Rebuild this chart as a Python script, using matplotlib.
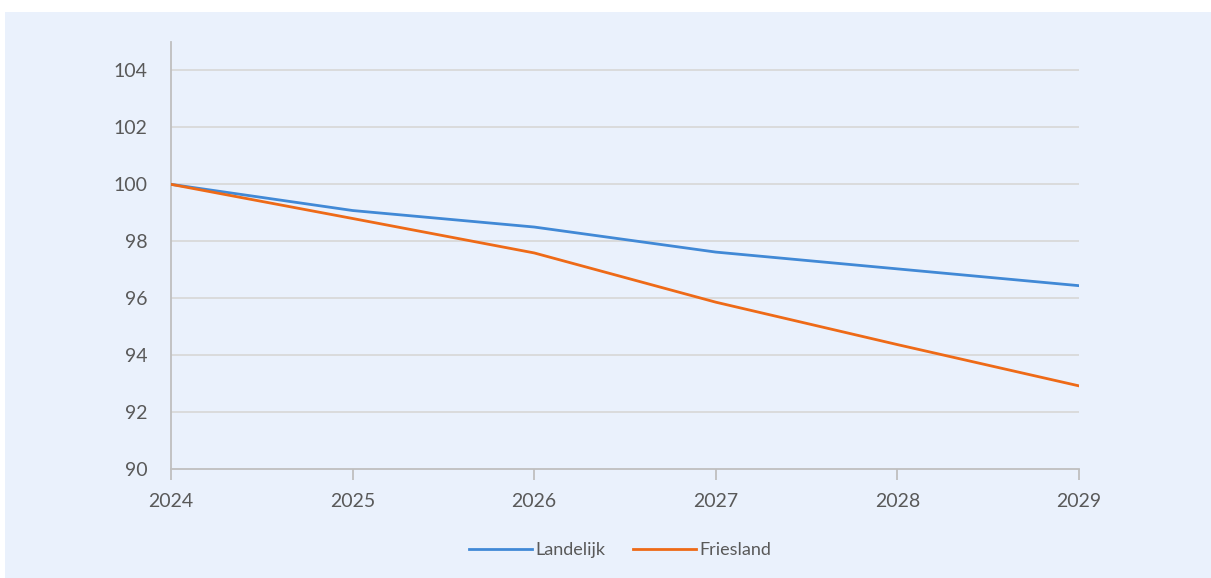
import matplotlib
matplotlib.use("Agg")
import matplotlib.pyplot as plt
from matplotlib.patches import Rectangle

years = [2024, 2025, 2026, 2027, 2028, 2029]
landelijk = [100.0, 99.08, 98.50, 97.62, 97.03, 96.44]
friesland = [100.0, 98.80, 97.59, 95.86, 94.37, 92.92]
yticks = [90, 92, 94, 96, 98, 100, 102, 104]

plt.rcParams['font.family'] = ['Lato', 'DejaVu Sans']
txt = '#595959'
bg = '#EAF1FC'

fig = plt.figure(figsize=(12.11, 5.78), dpi=100)
fig.patch.set_facecolor('white')
bgax = fig.add_axes([5/1211, 0, 1 - 5/1211, 566/578], zorder=-5)
bgax.set_facecolor(bg)
bgax.axis('off')
bgax.add_patch(Rectangle((0, 0), 1, 1, transform=bgax.transAxes, facecolor=bg, edgecolor='none'))

ax = fig.add_axes([171/1211, (578-469)/578, (1079-171)/1211, (469-42)/578], zorder=1)
ax.set_facecolor('none')
ax.plot(years, landelijk, color='#4189D6', lw=2, label='Landelijk', zorder=3)
ax.plot(years, friesland, color='#EE6A17', lw=2, label='Friesland', zorder=3)

ax.set_xlim(2024, 2029)
ax.set_ylim(90, 105)
ax.set_yticks(yticks)
ax.set_xticks(years)
ax.set_xticklabels([str(y) for y in years])
for y in yticks[1:]:
    ax.axhline(y, color='#D9D9D9', lw=1.3, zorder=1)

for s in ['top', 'right']:
    ax.spines[s].set_visible(False)
for s in ['left', 'bottom']:
    ax.spines[s].set_color('#BFBFBF')
    ax.spines[s].set_linewidth(1.3)
ax.tick_params(axis='y', length=0, pad=17, labelsize=14, labelcolor=txt)
ax.tick_params(axis='x', length=8, width=1.3, color='#BFBFBF', pad=9, labelsize=14, labelcolor=txt)

leg = fig.legend(loc='center', bbox_to_anchor=(620/1211, (578-550)/578), ncol=2, frameon=False,
                 fontsize=13, labelcolor=txt, handlelength=3.5, handletextpad=0.2, columnspacing=1.5)

fig.savefig('out.png', dpi=100, facecolor='white')
